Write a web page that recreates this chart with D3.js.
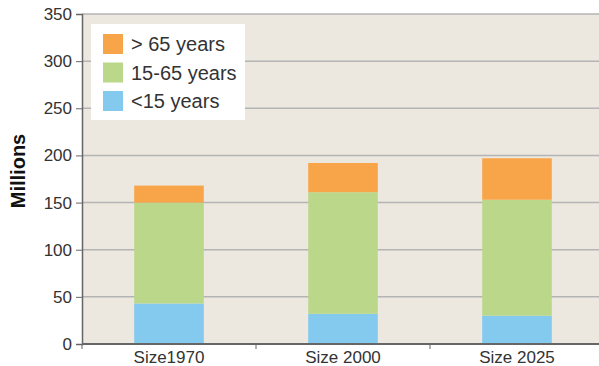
<!DOCTYPE html>
<html>
<head>
<meta charset="utf-8">
<script src="https://cdn.jsdelivr.net/npm/d3@7"></script>
<style>
  body { margin: 0; background: #fff; }
  svg { display: block; font-family: "Liberation Sans", Arial, sans-serif; }
</style>
</head>
<body>
<svg id="chart" width="599" height="366"></svg>
<script>
// Population by age group, millions
const categories = ["Size1970", "Size 2000", "Size 2025"];
const under15 = [43, 32, 30];
const age15to65 = [107, 129, 123];
const over65 = [18, 31, 44];
const seriesNames = ["<15 years", "15-65 years", "> 65 years"];
const seriesColors = ["#83caee", "#bbd88a", "#f8a54a"];
const yTicks = [0, 50, 100, 150, 200, 250, 300, 350];

const rows = categories.map((c, i) => ({
  cat: c,
  "<15 years": under15[i],
  "15-65 years": age15to65[i],
  "> 65 years": over65[i]
}));

const svg = d3.select("#chart");
const margin = { left: 82, top: 14, bottom: 22 };
const plotW = 522;
const plotH = 366 - margin.top - margin.bottom;

const x = d3.scaleBand().domain(categories).range([margin.left, margin.left + plotW]).paddingInner(0.6).paddingOuter(0.3);
const y = d3.scaleLinear().domain([0, 350]).range([margin.top + plotH, margin.top]);

// plot background
svg.append("rect")
  .attr("x", margin.left).attr("y", margin.top)
  .attr("width", 599 - margin.left).attr("height", plotH)
  .attr("fill", "#ede8df");

// horizontal gridlines
svg.append("g").selectAll("line").data(yTicks.filter(d => d > 0)).join("line")
  .attr("x1", margin.left).attr("x2", 599)
  .attr("y1", d => y(d)).attr("y2", d => y(d))
  .attr("stroke", "#b4b4b4").attr("stroke-width", 1.5);

// stacked bars
const stack = d3.stack().keys(seriesNames)(rows);
svg.append("g").selectAll("g").data(stack).join("g")
  .attr("fill", (d, i) => seriesColors[i])
  .selectAll("rect").data(d => d).join("rect")
  .attr("x", d => x(d.data.cat))
  .attr("width", x.bandwidth())
  .attr("y", d => y(d[1]))
  .attr("height", d => y(d[0]) - y(d[1]));

// y axis
const yAxis = svg.append("g")
  .attr("transform", `translate(${margin.left},0)`)
  .call(d3.axisLeft(y).tickValues(yTicks).tickSize(6).tickPadding(4));
yAxis.select(".domain").attr("stroke", "#666").attr("stroke-width", 1.5);
yAxis.selectAll(".tick line").attr("stroke", "#666");
yAxis.selectAll(".tick text").attr("font-size", 17).attr("fill", "#333")
  .attr("font-family", "Liberation Sans, Arial, sans-serif");

// x axis with ticks between categories
const xBottom = y(0);
const xAxisG = svg.append("g");
xAxisG.append("line")
  .attr("x1", margin.left).attr("x2", 599)
  .attr("y1", xBottom).attr("y2", xBottom)
  .attr("stroke", "#666").attr("stroke-width", 2);
xAxisG.selectAll("line.tick").data(d3.range(categories.length)).join("line")
  .attr("class", "tick")
  .attr("x1", i => margin.left + i * (plotW / categories.length))
  .attr("x2", i => margin.left + i * (plotW / categories.length))
  .attr("y1", xBottom).attr("y2", xBottom + 5)
  .attr("stroke", "#666");
xAxisG.selectAll("text").data(categories).join("text")
  .attr("x", d => x(d) + x.bandwidth() / 2)
  .attr("y", xBottom + 19)
  .attr("text-anchor", "middle")
  .attr("font-size", 17).attr("fill", "#333")
  .text(d => d);

// y axis title
svg.append("text")
  .attr("transform", `translate(25,171) rotate(-90)`)
  .attr("text-anchor", "middle")
  .attr("font-size", 20).attr("font-weight", "bold").attr("fill", "#111")
  .text("Millions");

// legend
const legend = svg.append("g");
legend.append("rect")
  .attr("x", 91).attr("y", 24).attr("width", 154).attr("height", 96)
  .attr("fill", "#fff");
const legendOrder = [2, 1, 0];
legendOrder.forEach((si, j) => {
  const ly = 34 + j * 28.5;
  legend.append("rect")
    .attr("x", 103).attr("y", ly).attr("width", 20).attr("height", 20)
    .attr("fill", seriesColors[si]);
  legend.append("text")
    .attr("x", 131).attr("y", ly + 17)
    .attr("font-size", 20).attr("fill", "#333")
    .text(seriesNames[si]);
});
</script>
</body>
</html>
